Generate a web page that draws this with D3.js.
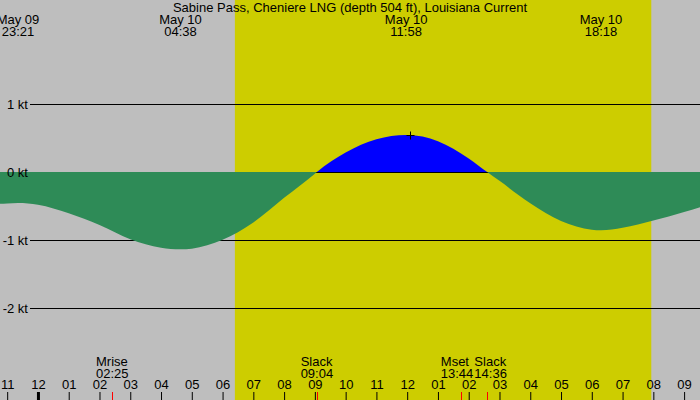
<!DOCTYPE html>
<html>
<head>
<meta charset="utf-8">
<title>Sabine Pass current</title>
<script src="https://cdn.jsdelivr.net/npm/d3@7"></script>
<style>
  body { margin: 0; background: #fff; }
  svg { display: block; }
  text { font-family: "Liberation Sans", Arial, sans-serif; font-size: 13px; fill: #000; }
</style>
</head>
<body>
<div id="chart"></div>
<script>
// ---- data ----
var title = "Sabine Pass, Cheniere LNG (depth 504 ft), Louisiana Current";

var windowStart = "05-09 22:46", windowEnd = "05-10 21:31";
var sunrise = "05-10 06:24", sunset = "05-10 19:56";

// current speed in knots (negative = ebb)
var curveTimes = ["05-09 22:00", "05-09 23:00", "05-09 23:21", "05-10 00:00", "05-10 01:00",
                  "05-10 02:00", "05-10 03:00", "05-10 04:00", "05-10 04:38", "05-10 05:00",
                  "05-10 06:00", "05-10 07:00", "05-10 08:00", "05-10 09:00", "05-10 09:04",
                  "05-10 10:00", "05-10 11:00", "05-10 11:58", "05-10 12:00", "05-10 13:00",
                  "05-10 14:00", "05-10 14:36", "05-10 15:00", "05-10 16:00", "05-10 17:00",
                  "05-10 18:00", "05-10 18:18", "05-10 19:00", "05-10 20:00", "05-10 21:00",
                  "05-10 22:00"];
var curveSpeeds = [-0.50, -0.462, -0.456, -0.481, -0.607,
                   -0.78, -0.99, -1.113, -1.137, -1.127,
                   -0.997, -0.741, -0.38, -0.025, 0,
                   0.285, 0.48, 0.544, 0.544, 0.454,
                   0.2, 0, -0.13, -0.46, -0.72,
                   -0.849, -0.857, -0.82, -0.715, -0.59,
                   -0.45];

// max / min events labelled along the top
var extremaTimes = ["05-09 23:21", "05-10 04:38", "05-10 11:58", "05-10 18:18"];

// mark drawn at the flood peak
var peakMark = { time: "05-10 12:05", speed: 0.544 };

// events labelled along the bottom
var eventNames = ["Mrise", "Slack", "Mset", "Slack"];
var eventTimes = ["05-10 02:25", "05-10 09:04", "05-10 13:44", "05-10 14:36"];

var gridKnots = [1, 0, -1, -2];

// ---- setup ----
var width = 700, height = 400;
var parse = d3.timeParse("%m-%d %H:%M");
var fmtDay = d3.timeFormat("%b %d"), fmtTime = d3.timeFormat("%H:%M");

var x = d3.scaleTime()
    .domain([parse(windowStart), parse(windowEnd)])
    .range([0, width]);

var y = d3.scaleLinear()
    .domain([-2, 1])
    .range([308, 104]);

var svg = d3.select("#chart").append("svg")
    .attr("width", width)
    .attr("height", height);

svg.append("rect")
    .attr("width", width).attr("height", height)
    .attr("fill", "#bebebe");

// daylight
svg.append("rect")
    .attr("x", x(parse(sunrise)))
    .attr("width", x(parse(sunset)) - x(parse(sunrise)))
    .attr("y", 0).attr("height", height)
    .attr("fill", "#cdcd00");

// grid lines
svg.append("g").selectAll("line")
    .data(gridKnots)
    .enter().append("line")
    .attr("x1", 30).attr("x2", width)
    .attr("y1", function (d) { return Math.round(y(d)) + 0.5; })
    .attr("y2", function (d) { return Math.round(y(d)) + 0.5; })
    .attr("stroke", "#000");

// current curve
var pts = curveTimes.map(function (t, i) { return { t: parse(t), v: curveSpeeds[i] }; });
var zeroY = y(0);

var defs = svg.append("defs");
defs.append("clipPath").attr("id", "clipPos")
  .append("rect").attr("x", 0).attr("y", 0).attr("width", width).attr("height", zeroY);
defs.append("clipPath").attr("id", "clipNeg")
  .append("rect").attr("x", 0).attr("y", zeroY).attr("width", width).attr("height", height - zeroY);

var area = d3.area()
    .x(function (d) { return x(d.t); })
    .y0(zeroY)
    .y1(function (d) { return y(d.v); })
    .curve(d3.curveMonotoneX);

svg.append("path")
    .datum(pts)
    .attr("clip-path", "url(#clipNeg)")
    .attr("d", area)
    .attr("fill", "#2e8b57");

svg.append("path")
    .datum(pts)
    .attr("clip-path", "url(#clipPos)")
    .attr("d", area)
    .attr("fill", "#0000ff");

// grid labels (on top of the fill)
svg.append("g").selectAll("text")
    .data(gridKnots)
    .enter().append("text")
    .attr("x", 28)
    .attr("y", function (d) { return y(d) + 4.5; })
    .attr("text-anchor", "end")
    .text(function (d) { return d + " kt"; });

// peak mark
var px = Math.round(x(parse(peakMark.time))) + 0.5, py = Math.round(y(peakMark.speed)) + 0.5;
svg.append("path")
    .attr("d", "M" + (px - 4) + "," + py + "H" + (px + 4) + "M" + px + "," + (py - 4) + "V" + (py + 4))
    .attr("stroke", "#000")
    .attr("fill", "none");

// title
svg.append("text")
    .attr("x", width / 2).attr("y", 12)
    .attr("text-anchor", "middle")
    .text(title);

// extrema labels on top
var topLabels = svg.selectAll(".extrema")
    .data(extremaTimes.map(parse))
    .enter().append("text")
    .attr("class", "extrema")
    .attr("text-anchor", "middle");
topLabels.append("tspan")
    .attr("x", function (d) { return x(d); })
    .attr("y", 24)
    .text(function (d) { return fmtDay(d); });
topLabels.append("tspan")
    .attr("x", function (d) { return x(d); })
    .attr("y", 36)
    .text(function (d) { return fmtTime(d); });

// hour axis
var axis = svg.append("g")
    .attr("transform", "translate(0," + height + ")")
    .call(d3.axisTop(x)
        .ticks(d3.timeHour.every(1))
        .tickFormat(d3.timeFormat("%I"))
        .tickSize(8)
        .tickPadding(3));
axis.select(".domain").remove();
axis.attr("font-size", null).attr("font-family", null);
axis.selectAll(".tick line")
    .attr("stroke", "#000")
    .attr("stroke-width", function (d) { return d.getHours() === 0 ? 3 : 1; });

// bottom events
var ev = eventTimes.map(function (t, i) { return { name: eventNames[i], t: parse(t) }; });

svg.selectAll(".evtick")
    .data(ev)
    .enter().append("line")
    .attr("class", "evtick")
    .attr("x1", function (d) { return Math.round(x(d.t)) + 0.5; })
    .attr("x2", function (d) { return Math.round(x(d.t)) + 0.5; })
    .attr("y1", 392).attr("y2", height)
    .attr("stroke", "#ff0000");

var evLabels = svg.selectAll(".evlabel")
    .data(ev)
    .enter().append("text")
    .attr("class", "evlabel");
evLabels.append("tspan").attr("class", "n").attr("y", 366).text(function (d) { return d.name; });
evLabels.append("tspan").attr("class", "t").attr("y", 378).text(function (d) { return fmtTime(d.t); });

// block width = widest line, then push overlapping blocks apart
evLabels.each(function (d) {
    var n = d3.select(this).select(".n").node().getComputedTextLength();
    var t = d3.select(this).select(".t").node().getComputedTextLength();
    d.w = Math.max(n, t);
    d.cx = x(d.t);
});
for (var i = 1; i < ev.length; i++) {
    var a = ev[i - 1], b = ev[i];
    var overlap = (a.cx + a.w / 2 + 1) - (b.cx - b.w / 2);
    if (overlap > 0) { a.cx -= overlap / 2; b.cx += overlap / 2; }
}
evLabels.selectAll("tspan")
    .attr("x", function () { var d = d3.select(this.parentNode).datum(); return d.cx - d.w / 2; });
</script>
</body>
</html>
